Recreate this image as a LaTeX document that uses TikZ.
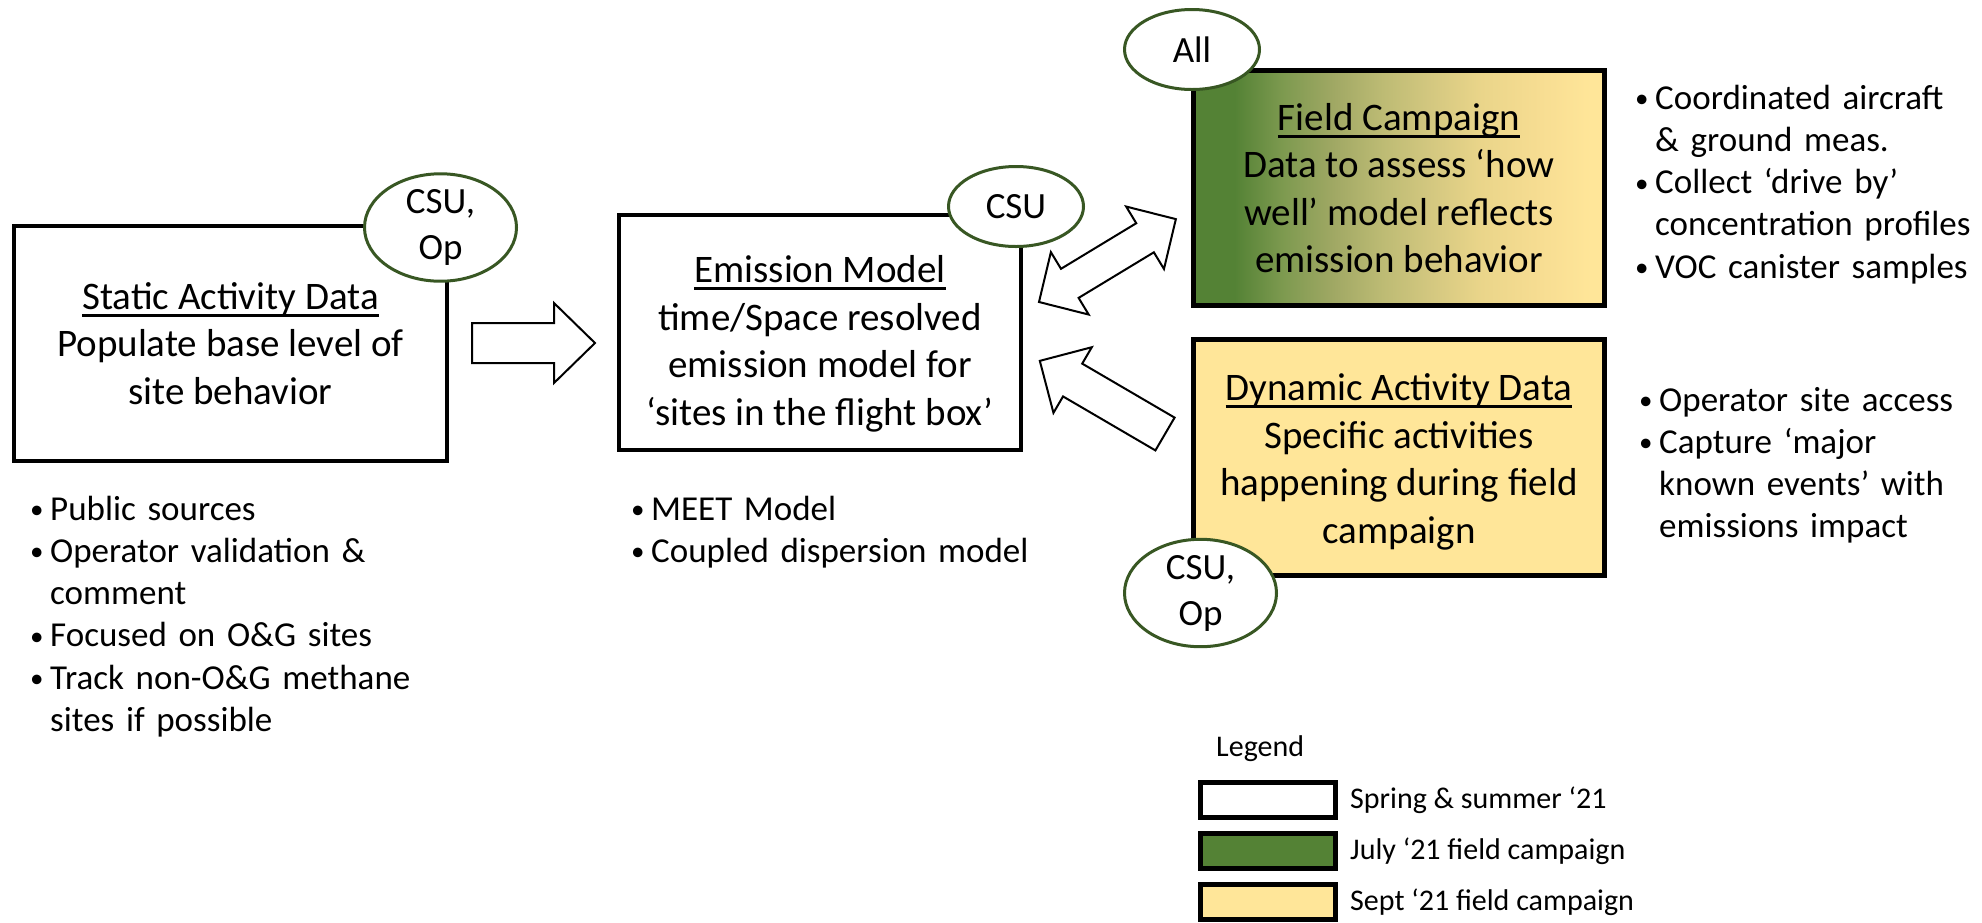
\documentclass[tikz,border=0pt]{standalone}
\usepackage{fontspec}
\setmainfont{Carlito}
\usetikzlibrary{shapes.geometric}
\definecolor{fgreen}{HTML}{548235}
\definecolor{fyel}{HTML}{FFE699}
\definecolor{egreen}{HTML}{385723}
\definecolor{g1}{RGB}{126,154,80}
\definecolor{g2}{RGB}{160,168,100}
\definecolor{g3}{RGB}{189,187,116}
\definecolor{g4}{RGB}{212,200,128}
\definecolor{g5}{RGB}{234,213,138}
\definecolor{g6}{RGB}{248,222,147}
\pgfdeclarehorizontalshading{fcshade}{100bp}{color(0bp)=(fgreen); color(30bp)=(fgreen); color(36bp)=(g1); color(42bp)=(g2); color(48bp)=(g3); color(54bp)=(g4); color(60bp)=(g5); color(68bp)=(g6); color(73.5bp)=(fyel); color(100bp)=(fyel)}
\newcommand{\ulx}[1]{\begingroup\setbox0=\hbox{#1}\rlap{\rule[-0.19em]{\wd0}{0.075em}}\box0\endgroup}
\newcommand{\bul}{\makebox[20pt][l]{\raisebox{1.5pt}{\fontsize{27}{27}\selectfont•}}}
\newcommand{\ind}{\hspace*{20pt}}
\begin{document}
\begin{tikzpicture}[x=1pt,y=-1pt,
  box/.style={draw=black, line width=4.5pt, align=center, inner sep=0pt, font=\fontsize{39}{47.5}\selectfont},
  boxtext/.style={align=center, inner sep=0pt, font=\fontsize{39}{47.5}\selectfont},
  who/.style={ellipse, draw=egreen, line width=3pt, fill=white, inner sep=0pt, align=center, font=\fontsize{37}{46}\selectfont},
  blk/.style={draw=black, fill=white, line width=2pt, line join=miter},
  blist/.style={anchor=base west, inner sep=0pt, align=left, text width=420pt, font=\fontsize{35}{42.3}\selectfont},
  leg/.style={draw=black, line width=5pt, minimum width=135pt, minimum height=35pt, inner sep=0pt},
  legtext/.style={anchor=base west, inner sep=0pt, font=\fontsize{30}{36}\selectfont}]
\useasboundingbox (0,0) rectangle (1982,922);

% main boxes
\node[box, minimum width=433pt, minimum height=235pt] (static) at (230.5,343.5)
  {\ulx{Static Activity Data}\\Populate base level of\\site behavior};
\node[box, minimum width=402pt, minimum height=235pt] (emis) at (820,332.5) {};
\node[boxtext] (emist) at (820,344)
  {\ulx{Emission Model}\\time/Space resolved\\emission model for\\‘sites in the flight box’};
\node[box, shading=fcshade, minimum width=411pt, minimum height=235pt] (field) at (1399,188)
  {\ulx{Field Campaign}\\Data to assess ‘how\\well’ model reflects\\emission behavior};
\node[box, fill=fyel, minimum width=411pt, minimum height=236pt] (dyn) at (1399,457.5) {};
\node[boxtext] (dynt) at (1399,462)
  {\ulx{Dynamic Activity Data}\\Specific activities\\happening during field\\campaign};

% block arrows
\coordinate (a1s) at (472,343);
\coordinate (a1e) at (595,343);
\begin{scope}[shift={(a1s)}]
  \draw[blk] (0,-20) -- (82,-20) -- (82,-40) -- (123,0) -- (82,40) -- (82,20) -- (0,20) -- cycle;
\end{scope}
\coordinate (a2s) at (1039,302);
\coordinate (a2e) at (1176,219);
\begin{scope}[shift={(a2s)}, rotate=31.2]
  \draw[blk] (0,0) -- (36,36.5) -- (36,17) -- (124,17) -- (124,36.5) -- (160,0)
    -- (124,-36.5) -- (124,-17) -- (36,-17) -- (36,-36.5) -- cycle;
\end{scope}
\coordinate (a3s) at (1165,434);
\coordinate (a3e) at (1040,361);
\begin{scope}[shift={(a3s)}, rotate=149.7]
  \draw[blk] (0,19) -- (107,19) -- (107,38) -- (145,0) -- (107,-38) -- (107,-19) -- (0,-19) -- cycle;
\end{scope}

% who ellipses
\node[who, minimum width=152pt, minimum height=95pt] (w1) at (440.5,227.5) {CSU,\\Op};
\node[who, minimum width=135pt, minimum height=80pt] (w2) at (1016,206.5) {CSU};
\node[who, minimum width=135pt, minimum height=80pt] (w3) at (1192,49.5) {All};
\node[who, minimum width=152pt, minimum height=95pt] (w4) at (1200.5,593) {CSU,\\Op};

% bullet lists
\node[blist] (l1) at (30,520) {\bul Public sources\\\bul Operator validation \&\\\ind comment\\\bul Focused on O\&G sites\\\bul Track non-O\&G methane\\\ind sites if possible};
\node[blist] (l2) at (631,520) {\bul MEET Model\\\bul Coupled dispersion model};
\node[blist] (l3) at (1635,109) {\bul Coordinated aircraft\\\ind \& ground meas.\\\bul Collect ‘drive by’\\\ind concentration profiles\\\bul VOC canister samples};
\node[blist] (l4) at (1639,411) {\bul Operator site access\\\bul Capture ‘major\\\ind known events’ with\\\ind emissions impact};

% legend
\node[legtext] (legt) at (1216,756) {Legend};
\node[leg, fill=white] (lg1) at (1268,800) {};
\node[leg, fill=fgreen] (lg2) at (1268,851) {};
\node[leg, fill=fyel] (lg3) at (1268,902) {};
\node[legtext] (lt1) at (1350,808) {Spring \& summer ‘21};
\node[legtext] (lt2) at (1350,859) {July ‘21 field campaign};
\node[legtext] (lt3) at (1350,910) {Sept ‘21 field campaign};
\end{tikzpicture}
\end{document}
